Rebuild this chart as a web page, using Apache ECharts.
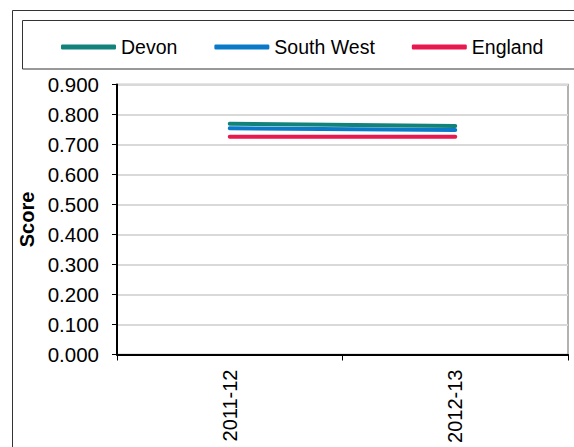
<!DOCTYPE html>
<html>
<head>
<meta charset="utf-8">
<script src="https://cdn.jsdelivr.net/npm/echarts@6/dist/echarts.min.js"></script>
<style>
html,body{margin:0;padding:0;background:#fff;overflow:hidden;}
#c{width:574px;height:447px;}
</style>
</head>
<body>
<div id="c"></div>
<script>
var categories = ['2011-12', '2012-13'];
var devon = [0.769, 0.762];
var southWest = [0.754, 0.748];
var england = [0.726, 0.726];
var yTicks = { min: 0, max: 0.9, interval: 0.1 };

var FONT = '"Liberation Sans", Arial, sans-serif';
var chart = echarts.init(document.getElementById('c'), null, { renderer: 'svg' });
function line(name, data, color) {
  return {
    name: name, type: 'line', data: data, symbol: 'none',
    lineStyle: { color: color, width: 4, cap: 'round' },
    itemStyle: { color: color }, z: 5
  };
}
chart.setOption({
  animation: false,
  backgroundColor: '#fff',
  textStyle: { fontFamily: FONT },
  graphic: [
    { type: 'rect', shape: { x: 12.5, y: 10.5, width: 700, height: 700 },
      style: { fill: 'none', stroke: '#333', lineWidth: 1 }, silent: true },
    { type: 'rect', shape: { x: 22.5, y: 20.5, width: 700, height: 48.5 },
      style: { fill: 'none', stroke: '#333', lineWidth: 1 }, silent: true }
  ],
  legend: {
    left: 56, top: 32, itemWidth: 55, itemHeight: 5, itemGap: 37,
    icon: 'roundRect',
    textStyle: { fontSize: 19.5, color: '#000', fontFamily: FONT },
    data: ['Devon', 'South West', 'England']
  },
  grid: {
    left: 117, right: 6, top: 84.5, height: 270,
    outerBoundsMode: 'none', containLabel: false,
    show: true, borderColor: '#999', borderWidth: 1.5, backgroundColor: '#fff'
  },
  xAxis: {
    type: 'category', data: categories, boundaryGap: true,
    axisLine: { lineStyle: { color: '#000', width: 2 } },
    axisTick: { show: true, length: 6, lineStyle: { color: '#000', width: 1 } },
    axisLabel: { rotate: 90, fontSize: 20, color: '#000', margin: 15, fontFamily: FONT },
    splitLine: { show: false }
  },
  yAxis: {
    type: 'value', min: yTicks.min, max: yTicks.max, interval: yTicks.interval,
    name: 'Score', nameLocation: 'middle', nameGap: 73, nameRotate: 90,
    nameTextStyle: { fontSize: 20, fontWeight: 'bold', color: '#000', fontFamily: FONT },
    axisLine: { show: true, lineStyle: { color: '#000', width: 2 } },
    axisTick: { show: true, length: 5, lineStyle: { color: '#000', width: 1 } },
    axisLabel: { fontSize: 20.5, color: '#000', margin: 18, fontFamily: FONT,
      formatter: function (v) { return v.toFixed(3); } },
    splitLine: { show: true, lineStyle: { color: '#d9d9d9', width: 2 } }
  },
  series: [
    line('England', england, '#E8194F'),
    line('South West', southWest, '#0A7AC8'),
    line('Devon', devon, '#12837A')
  ]
});
</script>
</body>
</html>
